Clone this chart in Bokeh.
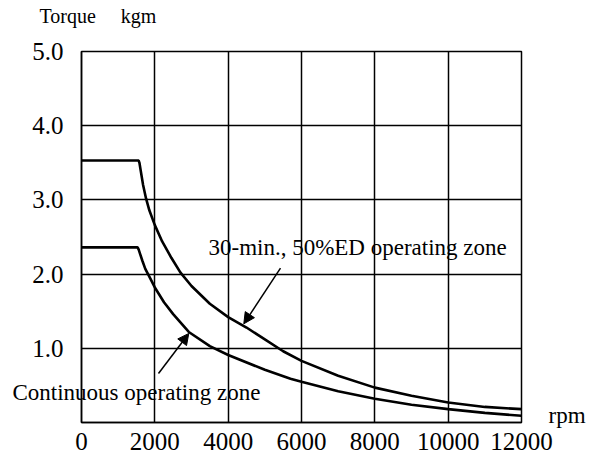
from bokeh.plotting import figure
from bokeh.models import Range1d, FixedTicker, Label, Arrow, NormalHead, LinearAxis
from bokeh.embed import file_html
from bokeh.resources import INLINE

# ---- data ----
rpm_30min = [0, 1560, 1580, 1620, 1680, 1760, 1850, 2000, 2200, 2450, 2700, 3000, 3500, 4000,
             4500, 5000, 5500, 6000, 7000, 8000, 9000, 10000, 11000, 12000]
torque_30min = [3.53, 3.53, 3.50, 3.38, 3.20, 3.02, 2.86, 2.66, 2.44, 2.22, 2.02, 1.84, 1.60, 1.42,
                1.28, 1.12, 0.96, 0.83, 0.63, 0.47, 0.36, 0.27, 0.21, 0.18]

rpm_cont = [0, 1530, 1560, 1600, 1660, 1740, 1836, 2000, 2250, 2500, 2926, 3500, 4000,
            5000, 5700, 6000, 7000, 8000, 9000, 10000, 11000, 12000]
torque_cont = [2.36, 2.36, 2.33, 2.27, 2.18, 2.07, 1.98, 1.82, 1.62, 1.46, 1.22, 1.03, 0.91,
               0.71, 0.59, 0.55, 0.42, 0.32, 0.24, 0.18, 0.13, 0.09]

x_ticks = [0, 2000, 4000, 6000, 8000, 10000, 12000]
x_tick_labels = ["0", "2000", "4000", "6000", "8000", "10000", "12000"]
y_ticks = [1, 2, 3, 4, 5]
y_tick_labels = ["1.0", "2.0", "3.0", "4.0", "5.0"]

FONT = "Liberation Serif"

p = figure(width=610, height=460, output_backend="svg", toolbar_location=None,
           x_range=Range1d(0, 12000), y_range=Range1d(0, 5),
           min_border_left=81, min_border_right=89, min_border_top=51, min_border_bottom=38)
p.background_fill_color = "white"
p.border_fill_color = "white"
p.outline_line_color = "black"
p.outline_line_width = 1.5

p.xaxis.ticker = FixedTicker(ticks=x_ticks)
p.xaxis.major_label_overrides = {t: l for t, l in zip(x_ticks, x_tick_labels)}
p.yaxis.ticker = FixedTicker(ticks=y_ticks)
p.yaxis.major_label_overrides = {t: l for t, l in zip(y_ticks, y_tick_labels)}

for ax in (p.xaxis[0], p.yaxis[0]):
    ax.axis_line_color = "black"
    ax.axis_line_width = 1.5
    ax.major_tick_in = 0
    ax.major_tick_out = 0
    ax.minor_tick_in = 0
    ax.minor_tick_out = 0
    ax.major_label_text_font = FONT
    ax.major_label_text_color = "black"
    ax.major_label_text_font_size = "25px"
p.xaxis.major_label_standoff = 10
p.yaxis.major_label_standoff = 18

p.xgrid.grid_line_color = "black"
p.xgrid.grid_line_width = 1.5
p.ygrid.grid_line_color = "black"
p.ygrid.grid_line_width = 1.5

# unit label "rpm" at the right end of the speed axis
unit_axis = LinearAxis(ticker=FixedTicker(ticks=[0.09]),
                       major_label_overrides={0.09: "rpm"},
                       axis_line_color=None, major_tick_in=0, major_tick_out=0,
                       minor_tick_in=0, minor_tick_out=0,
                       major_label_standoff=27, major_label_text_font=FONT,
                       major_label_text_font_size="23px", major_label_text_color="black")
p.add_layout(unit_axis, "right")

p.line(rpm_30min, torque_30min, line_color="black", line_width=2.6)
p.line(rpm_cont, torque_cont, line_color="black", line_width=2.6)

p.add_layout(Arrow(end=NormalHead(size=11, fill_color="black", line_color="black"),
                   x_start=5427, y_start=2.08, x_end=4426, y_end=1.33,
                   line_color="black", line_width=1.5))
p.add_layout(Arrow(end=NormalHead(size=11, fill_color="black", line_color="black"),
                   x_start=2100, y_start=0.66, x_end=2926, y_end=1.20,
                   line_color="black", line_width=1.5))

def lab(x, y, text, size, where=None):
    l = Label(x=x, y=y, text=text, text_font=FONT, text_font_size=size,
              text_color="black", text_baseline="middle", text_align="left")
    if where:
        p.add_layout(l, where)
    else:
        p.add_layout(l)

lab(3463, 2.36, "30-min., 50%ED operating zone", "23px")
lab(-1882, 0.404, "Continuous operating zone", "23px", where="above")
lab(-1145, 5.485, "Torque\u00a0\u00a0\u00a0\u00a0\u00a0kgm", "20px", where="above")

open("out.html", "w").write(file_html(p, INLINE))
